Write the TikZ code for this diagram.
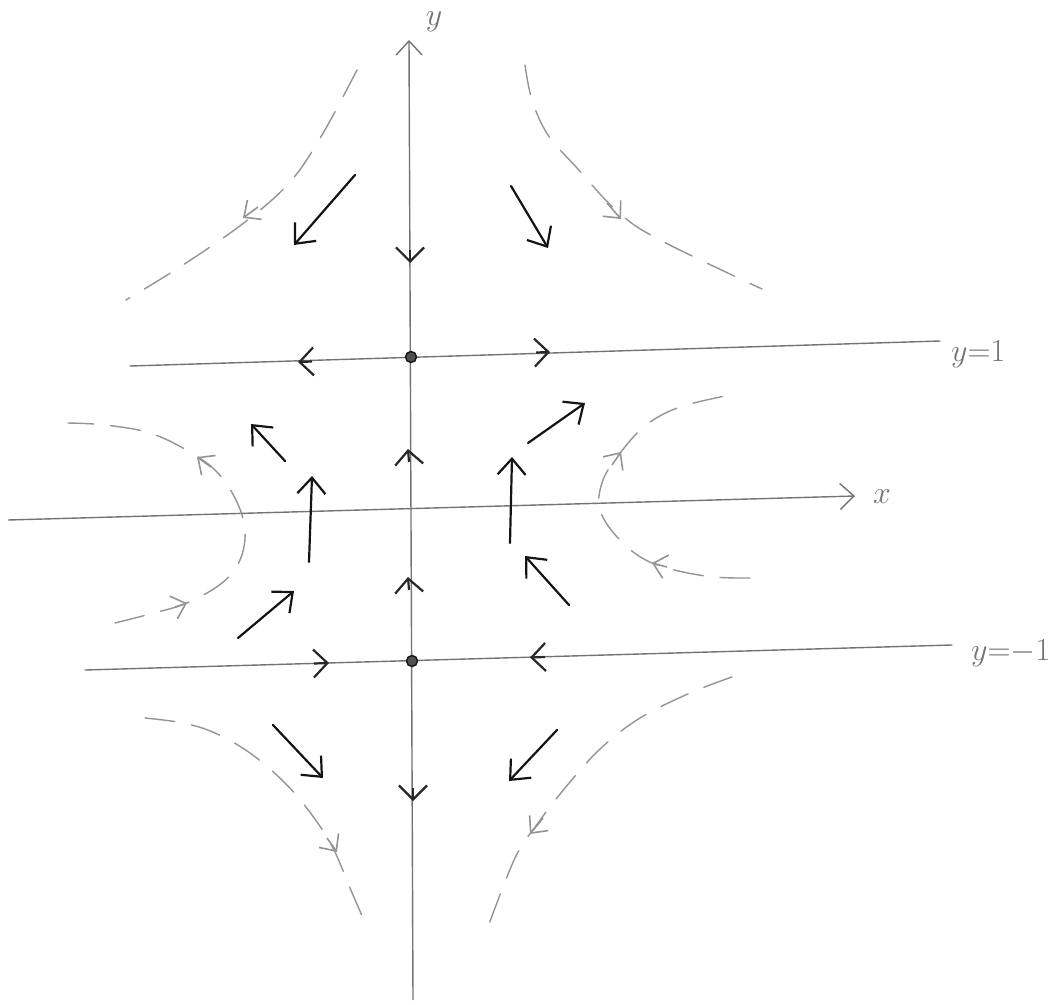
\RequirePackage{fix-cm}
\documentclass[tikz,border=0pt]{standalone}
\usetikzlibrary{arrows.meta}
\definecolor{axisgray}{gray}{0.45}
\definecolor{dashgray}{gray}{0.58}
\definecolor{ink}{gray}{0.08}
\tikzset{
  axisline/.style={draw=axisgray, line width=1.4pt, line cap=round},
  axistip/.style={draw=axisgray, line width=1.4pt, -{Straight Barb[length=14pt,width=26pt]}},
  axmark/.style={draw=ink!80!axisgray, line width=2.2pt, -{Straight Barb[length=14pt,width=28pt]}},
  vec/.style={draw=ink, line width=2.2pt, line cap=round, -{Straight Barb[length=16pt,width=28pt]}},
  traj/.style={draw=dashgray, line width=1.4pt, line cap=round, dash pattern=on 30pt off 17pt},
  trajtip/.style={draw=dashgray, line width=1.6pt, -{Straight Barb[length=13pt,width=24pt]}},
  eqpt/.style={circle, draw=ink, fill=axisgray!70!black, line width=1.4pt, inner sep=0pt, minimum size=11pt},
  lbl/.style={text=axisgray, font=\fontsize{32}{36}\selectfont, inner sep=1pt}
}
\begin{document}
\begin{tikzpicture}[x=1pt, y=-1pt]
\useasboundingbox (0,0) rectangle (1057,1004);

% axes and invariant lines
\draw[axistip] (413,1000) -- (409,40);
\draw[axistip] (8,520) -- (855,496);
\draw[axisline] (130,366) -- (940,341);
\draw[axisline] (85,670) -- (952,645);

% labels
\node[lbl] (ly) at (434,22) {$y$};
\node[lbl] (lx) at (882,497) {$x$};
\node[lbl, anchor=west] (l1) at (950,354) {$y{=}1$};
\node[lbl, anchor=west] (lm1) at (970,653) {$y{=}{-}1$};

% equilibria
\node[eqpt] (P1) at (411,357) {};
\node[eqpt] (P2) at (412,661) {};

% arrows on the y-axis
\draw[axmark] (410,250) -- (410,263);
\draw[axmark] (409,462) -- (408,449);
\draw[axmark] (409,590) -- (408,577);
\draw[axmark] (413,788) -- (413,801);

% arrows on y=1 and y=-1
\draw[axmark] (312,361.5) -- (298,362);
\draw[axmark] (536,352.5) -- (550,352);
\draw[axmark] (314,663.5) -- (329,663);
\draw[axmark] (545,657) -- (530,657.5);

% direction vectors
\draw[vec] (355,175) -- (294,245);
\draw[vec] (511,186) -- (548,248);
\draw[vec] (285,461) -- (251,424);
\draw[vec] (528,443) -- (585,403);
\draw[vec] (309,562) -- (312,476);
\draw[vec] (510,543) -- (512,457);
\draw[vec] (238,638) -- (294,591);
\draw[vec] (569,605) -- (525,556);
\draw[vec] (273,725) -- (323,778);
\draw[vec] (557,730) -- (509,781);

% trajectories (dashed)
\draw[traj] plot[smooth, tension=0.6] coordinates {(357,70) (322,135) (290,182) (245,222) (183,265) (126,300)};
\draw[trajtip] (258,207) -- (243,218);
\draw[traj] plot[smooth, tension=0.6] coordinates {(525,65) (532,100) (548,135) (577,168) (618,212) (660,240) (762,289)};
\draw[trajtip] (607,203) -- (621,219);
\draw[traj] plot[smooth, tension=0.6] coordinates {(115,623) (150,614) (187,603) (222,583) (240,560) (245,530) (236,500) (217,472) (190,452) (150,433) (105,425) (68,423)};
\draw[trajtip] (175,607) -- (187,603);
\draw[trajtip] (211,467) -- (197,457);
\draw[traj] plot[smooth, tension=0.6] coordinates {(750,578) (705,576) (652,563) (620,540) (600,510) (603,480) (621,452) (646,425) (680,407) (730,395)};
\draw[trajtip] (667,567) -- (652,563);
\draw[trajtip] (612,465) -- (621,452);
\draw[traj] plot[smooth, tension=0.6] coordinates {(145,718) (183,723) (215,733) (250,753) (285,783) (312,815) (333,848) (350,888) (363,918)};
\draw[trajtip] (327,838) -- (337,852);
\draw[traj] plot[smooth, tension=0.6] coordinates {(732,677) (690,693) (640,718) (600,749) (565,788) (538,823) (515,858) (488,927)};
\draw[trajtip] (543,818) -- (530,834);
\end{tikzpicture}
\end{document}
